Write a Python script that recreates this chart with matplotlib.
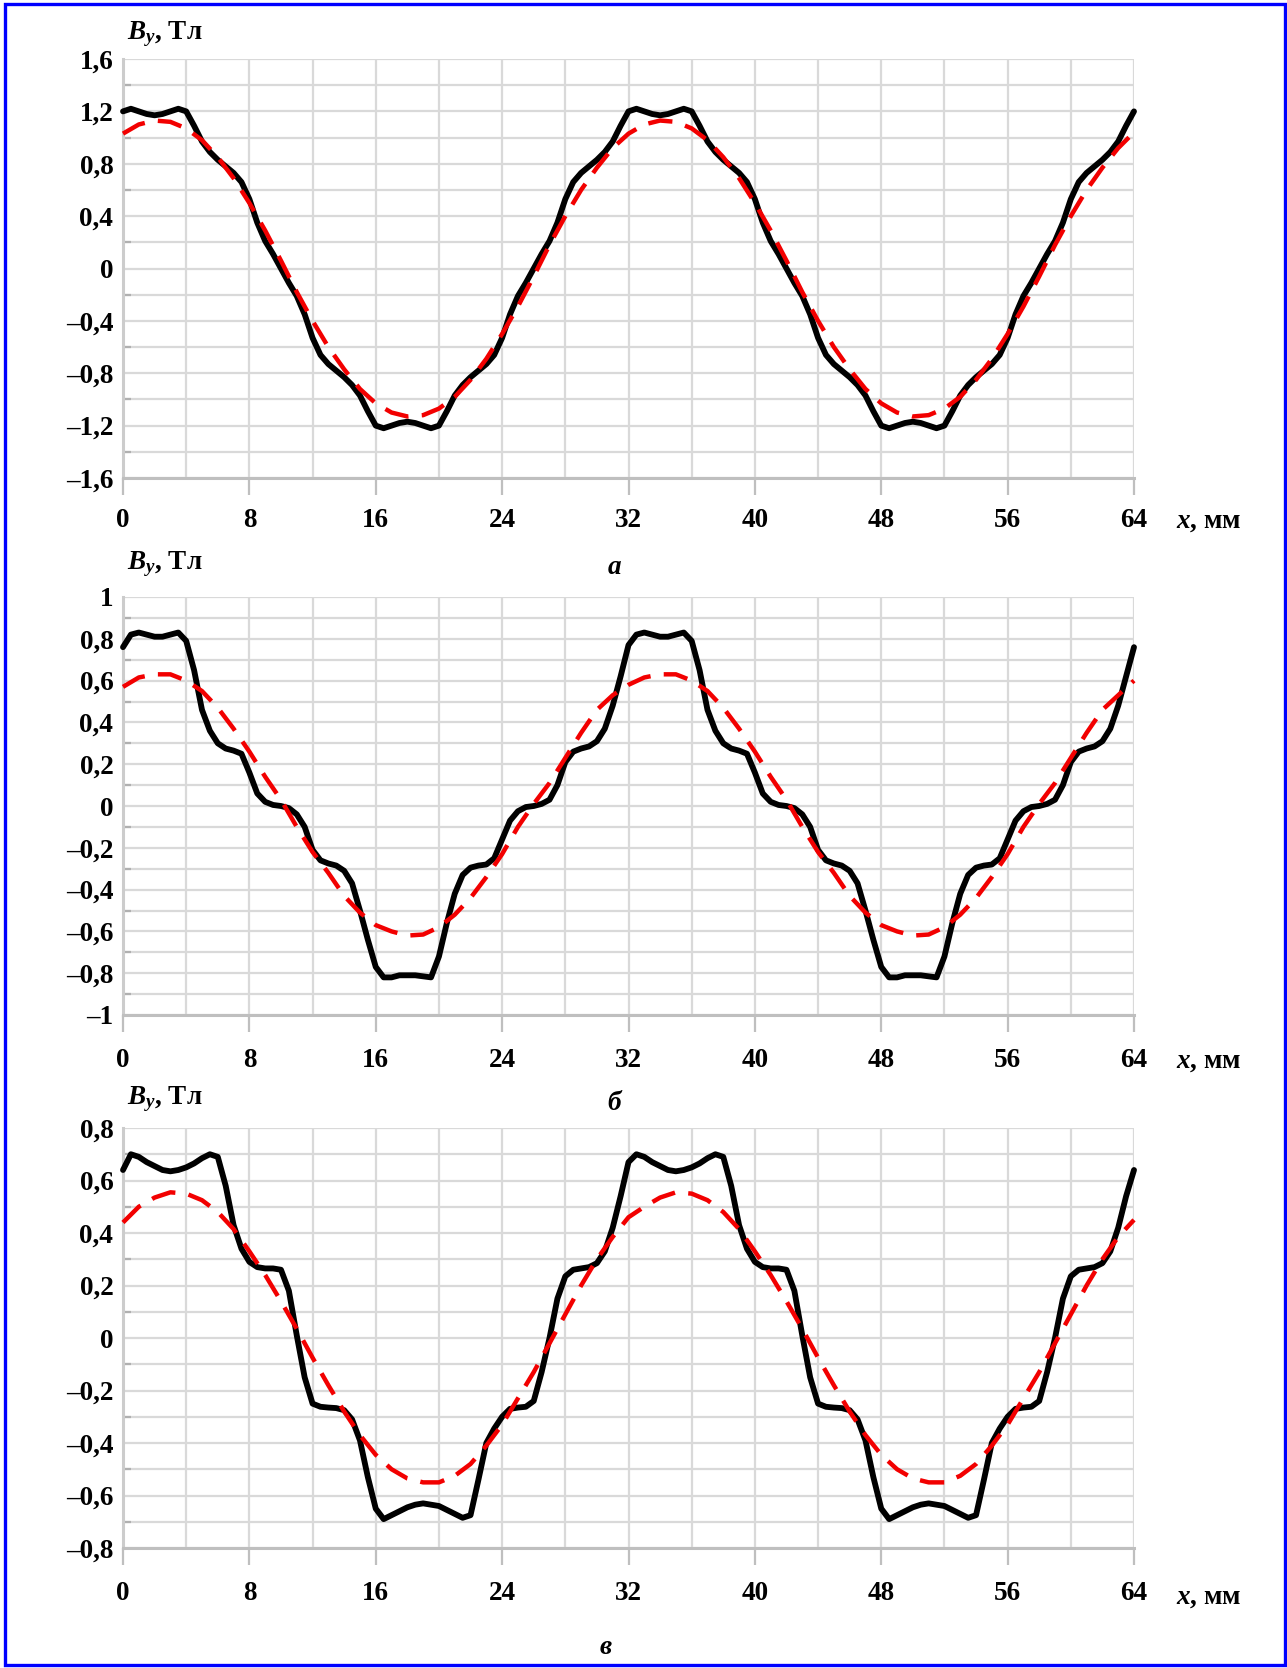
import numpy as np
import matplotlib
matplotlib.use("Agg")
import matplotlib.pyplot as plt
from matplotlib.ticker import MultipleLocator, FixedLocator, FixedFormatter
from matplotlib.patches import Rectangle

plt.rcParams['font.family'] = ['Liberation Serif', 'DejaVu Serif']
plt.rcParams['font.weight'] = 'bold'
plt.rcParams['mathtext.fontset'] = 'custom'
plt.rcParams['mathtext.it'] = 'Liberation Serif:italic:bold'
plt.rcParams['mathtext.rm'] = 'Liberation Serif:bold'

W, H = 1287, 1668

# x, мм
x_fine = np.linspace(0, 64, 129)   # шаг 0,5 мм
x_coarse = np.arange(0, 65)        # шаг 1 мм

# ---- (а) ----
black_a = [
    1.20, 1.22, 1.20, 1.18, 1.17, 1.18, 1.20, 1.22, 1.20,
    1.09, 0.97, 0.89, 0.83, 0.78, 0.73, 0.66, 0.53,
    0.35, 0.21, 0.11, 0.00, -0.11, -0.21, -0.35, -0.53,
    -0.66, -0.73, -0.78, -0.83, -0.89, -0.97, -1.09, -1.20,
    -1.22, -1.20, -1.18, -1.17, -1.18, -1.20, -1.22, -1.20,
    -1.09, -0.97, -0.89, -0.83, -0.78, -0.73, -0.66, -0.53,
    -0.35, -0.21, -0.11, 0.00, 0.11, 0.21, 0.35, 0.53,
    0.66, 0.73, 0.78, 0.83, 0.89, 0.97, 1.09, 1.20,
    1.22, 1.20, 1.18, 1.17, 1.18, 1.20, 1.22, 1.20,
    1.09, 0.97, 0.89, 0.83, 0.78, 0.73, 0.66, 0.53,
    0.35, 0.21, 0.11, 0.00, -0.11, -0.21, -0.35, -0.53,
    -0.66, -0.73, -0.78, -0.83, -0.89, -0.97, -1.09, -1.20,
    -1.22, -1.20, -1.18, -1.17, -1.18, -1.20, -1.22, -1.20,
    -1.09, -0.97, -0.89, -0.83, -0.78, -0.73, -0.66, -0.53,
    -0.35, -0.21, -0.11, 0.00, 0.11, 0.21, 0.35, 0.53,
    0.66, 0.73, 0.78, 0.83, 0.89, 0.97, 1.09, 1.20,
]
red_a = [
    1.03, 1.10, 1.13, 1.12, 1.07, 0.98, 0.85, 0.69, 0.50,
    0.29, 0.06, -0.18, -0.40, -0.60, -0.77, -0.92, -1.03,
    -1.10, -1.13, -1.12, -1.07, -0.98, -0.85, -0.69, -0.50,
    -0.29, -0.06, 0.18, 0.40, 0.60, 0.77, 0.92, 1.03,
    1.10, 1.13, 1.12, 1.07, 0.98, 0.85, 0.69, 0.50,
    0.29, 0.06, -0.18, -0.40, -0.60, -0.77, -0.92, -1.03,
    -1.10, -1.13, -1.12, -1.07, -0.98, -0.85, -0.69, -0.50,
    -0.29, -0.06, 0.18, 0.40, 0.60, 0.77, 0.92, 1.04,
]

# ---- (б) ----
black_b = [
    0.76, 0.82, 0.83, 0.82, 0.81, 0.81, 0.82, 0.83, 0.79,
    0.65, 0.46, 0.36, 0.30, 0.275, 0.265, 0.25, 0.16,
    0.06, 0.02, 0.005, 0.00, -0.01, -0.04, -0.10, -0.21,
    -0.26, -0.275, -0.285, -0.31, -0.37, -0.50, -0.64, -0.77,
    -0.82, -0.82, -0.81, -0.81, -0.81, -0.815, -0.82, -0.72,
    -0.56, -0.42, -0.33, -0.295, -0.285, -0.28, -0.25, -0.16,
    -0.07, -0.025, -0.005, 0.00, 0.01, 0.03, 0.10, 0.21,
    0.26, 0.275, 0.285, 0.31, 0.37, 0.48, 0.62, 0.77,
    0.82, 0.83, 0.82, 0.81, 0.81, 0.82, 0.83, 0.79,
    0.65, 0.46, 0.36, 0.30, 0.275, 0.265, 0.25, 0.16,
    0.06, 0.02, 0.005, 0.00, -0.01, -0.04, -0.10, -0.21,
    -0.26, -0.275, -0.285, -0.31, -0.37, -0.50, -0.64, -0.77,
    -0.82, -0.82, -0.81, -0.81, -0.81, -0.815, -0.82, -0.72,
    -0.56, -0.42, -0.33, -0.295, -0.285, -0.28, -0.25, -0.16,
    -0.07, -0.025, -0.005, 0.00, 0.01, 0.03, 0.10, 0.21,
    0.26, 0.275, 0.285, 0.31, 0.37, 0.48, 0.62, 0.76,
]
red_b = [
    0.57, 0.615, 0.63, 0.63, 0.60, 0.55, 0.47, 0.37, 0.26,
    0.14, 0.03, -0.10, -0.22, -0.32, -0.43, -0.51, -0.57,
    -0.60, -0.62, -0.615, -0.58, -0.52, -0.44, -0.34, -0.23,
    -0.10, 0.01, 0.11, 0.23, 0.35, 0.46, 0.53, 0.58,
    0.615, 0.63, 0.63, 0.60, 0.55, 0.47, 0.37, 0.26,
    0.14, 0.03, -0.10, -0.22, -0.32, -0.43, -0.51, -0.57,
    -0.60, -0.62, -0.615, -0.58, -0.52, -0.44, -0.34, -0.23,
    -0.10, 0.01, 0.11, 0.23, 0.35, 0.46, 0.53, 0.60,
]

# ---- (в) ----
black_c = [
    0.64, 0.70, 0.69, 0.67, 0.655, 0.64, 0.635, 0.64, 0.65,
    0.665, 0.685, 0.70, 0.69, 0.58, 0.43, 0.34, 0.29,
    0.27, 0.265, 0.265, 0.26, 0.18, 0.01, -0.15, -0.25,
    -0.262, -0.265, -0.267, -0.275, -0.31, -0.39, -0.53, -0.65,
    -0.69, -0.675, -0.66, -0.645, -0.635, -0.63, -0.635, -0.64,
    -0.655, -0.67, -0.685, -0.675, -0.54, -0.40, -0.345, -0.30,
    -0.27, -0.265, -0.262, -0.24, -0.13, 0.00, 0.15, 0.235,
    0.26, 0.265, 0.27, 0.285, 0.33, 0.42, 0.54, 0.67,
    0.70, 0.69, 0.67, 0.655, 0.64, 0.635, 0.64, 0.65,
    0.665, 0.685, 0.70, 0.69, 0.58, 0.43, 0.34, 0.29,
    0.27, 0.265, 0.265, 0.26, 0.18, 0.01, -0.15, -0.25,
    -0.262, -0.265, -0.267, -0.275, -0.31, -0.39, -0.53, -0.65,
    -0.69, -0.675, -0.66, -0.645, -0.635, -0.63, -0.635, -0.64,
    -0.655, -0.67, -0.685, -0.675, -0.54, -0.40, -0.345, -0.30,
    -0.27, -0.265, -0.262, -0.24, -0.13, 0.00, 0.15, 0.235,
    0.26, 0.265, 0.27, 0.285, 0.33, 0.42, 0.54, 0.64,
]
red_c = [
    0.44, 0.50, 0.535, 0.555, 0.55, 0.525, 0.48, 0.415, 0.33,
    0.24, 0.14, 0.035, -0.075, -0.18, -0.28, -0.37, -0.445,
    -0.50, -0.535, -0.55, -0.55, -0.525, -0.48, -0.41, -0.33,
    -0.23, -0.13, -0.02, 0.09, 0.20, 0.30, 0.385, 0.46,
    0.50, 0.535, 0.555, 0.55, 0.525, 0.48, 0.415, 0.33,
    0.24, 0.14, 0.035, -0.075, -0.18, -0.28, -0.37, -0.445,
    -0.50, -0.535, -0.55, -0.55, -0.525, -0.48, -0.41, -0.33,
    -0.23, -0.13, -0.02, 0.09, 0.20, 0.30, 0.385, 0.45,
]

x_ticks = [0, 8, 16, 24, 32, 40, 48, 56, 64]
x_labels = ["0", "8", "16", "24", "32", "40", "48", "56", "64"]

yt_a = [-1.6, -1.2, -0.8, -0.4, 0, 0.4, 0.8, 1.2, 1.6]
yl_a = ["–1,6", "–1,2", "–0,8", "–0,4", "0", "0,4", "0,8", "1,2", "1,6"]
yt_b = [-1, -0.8, -0.6, -0.4, -0.2, 0, 0.2, 0.4, 0.6, 0.8, 1]
yl_b = ["–1", "–0,8", "–0,6", "–0,4", "–0,2", "0", "0,2", "0,4", "0,6", "0,8", "1"]
yt_c = [-0.8, -0.6, -0.4, -0.2, 0, 0.2, 0.4, 0.6, 0.8]
yl_c = ["–0,8", "–0,6", "–0,4", "–0,2", "0", "0,2", "0,4", "0,6", "0,8"]


def fx(x):
    return x / W


def fy(y):
    return 1 - y / H


fig = plt.figure(figsize=(W / 100, H / 100), dpi=100)

# (данные, тики, положение в пикселях)
panels = [
    dict(black=black_a, red=red_a, yt=yt_a, yl=yl_a, minor=0.2, xpad=9.5,
         top=59, bottom=478, ylab_y=39, letter="а", let_xy=(614, 567), xlab_y=521),
    dict(black=black_b, red=red_b, yt=yt_b, yl=yl_b, minor=0.1, xpad=12,
         top=597, bottom=1015, ylab_y=569, letter="б", let_xy=(614, 1103), xlab_y=1062),
    dict(black=black_c, red=red_c, yt=yt_c, yl=yl_c, minor=0.1, xpad=12,
         top=1128, bottom=1548, ylab_y=1104, letter="в", let_xy=(606, 1647), xlab_y=1597),
]

grid_c = '#d9d9d9'
axis_c = '#bfbfbf'

for p in panels:
    ax = fig.add_axes([fx(123), fy(p['bottom']), fx(1134 - 123),
                       (p['bottom'] - p['top']) / H])
    ax.plot(x_fine, p['black'], color='black', lw=4.2, solid_joinstyle='round',
            solid_capstyle='round', zorder=3, clip_on=False)
    ax.plot(x_coarse, p['red'], color='#f20000', lw=3.2, dashes=(5.5, 3.0),
            zorder=4, clip_on=False)

    ax.set_xlim(0, 64)
    ax.set_ylim(p['yt'][0], p['yt'][-1])

    ax.xaxis.set_major_locator(FixedLocator(x_ticks))
    ax.xaxis.set_major_formatter(FixedFormatter(x_labels))
    ax.xaxis.set_minor_locator(MultipleLocator(4))
    ax.yaxis.set_major_locator(FixedLocator(p['yt']))
    ax.yaxis.set_major_formatter(FixedFormatter(p['yl']))
    ax.yaxis.set_minor_locator(MultipleLocator(p['minor']))

    ax.grid(which='both', color=grid_c, lw=1.6, zorder=0)
    ax.set_axisbelow(True)

    for s in ['top', 'right']:
        ax.spines[s].set_visible(False)
    ax.spines['bottom'].set_color(axis_c)
    ax.spines['bottom'].set_linewidth(2.2)
    ax.spines['left'].set_color('#cccccc')
    ax.spines['left'].set_linewidth(2.2)

    ax.tick_params(axis='x', which='major', length=12, width=1.6, color=axis_c,
                   pad=p['xpad'], labelsize=19.5)
    ax.tick_params(axis='x', which='minor', length=0)
    ax.tick_params(axis='y', which='major', length=0, pad=7, labelsize=19.5)
    ax.tick_params(axis='y', which='minor', direction='in', length=6, width=1.6,
                   color='#b0b0b0')
    for lab in ax.get_xticklabels() + ax.get_yticklabels():
        lab.set_fontweight('bold')

    fig.text(fx(127), fy(p['ylab_y']), r'$B_y$, Тл', fontsize=19.5,
             fontweight='bold', ha='left', va='baseline')
    fig.text(fx(1176), fy(p['xlab_y']), r'$x$, мм', fontsize=19.5,
             fontweight='bold', ha='left', va='center')
    fig.text(fx(p['let_xy'][0]), fy(p['let_xy'][1]), p['letter'], fontsize=19.5,
             fontweight='bold', fontstyle='italic', ha='center', va='center')

# синяя рамка
fig.patches.append(Rectangle((fx(5), fy(1665)), fx(1285 - 5), (1665 - 4) / H,
                             transform=fig.transFigure, fill=False,
                             edgecolor='#0000ff', lw=2.4))

fig.savefig("out.png", dpi=100)
